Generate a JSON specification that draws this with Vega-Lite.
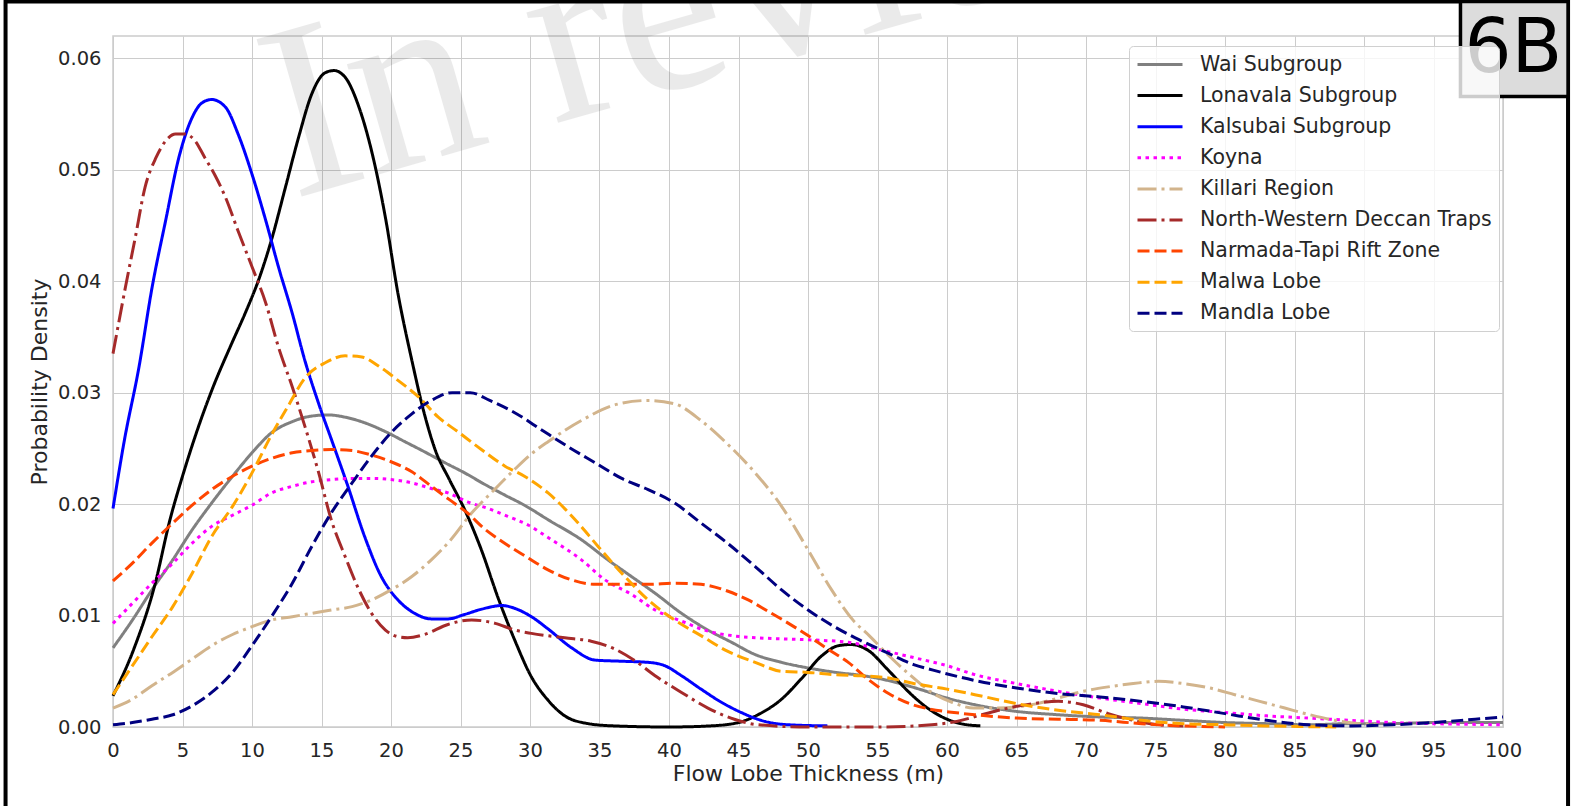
{
  "$schema": "https://vega.github.io/schema/vega-lite/v6.json",
  "width": 1390,
  "height": 691,
  "autosize": {"type": "none"},
  "padding": {"left": 113, "top": 36, "right": 68, "bottom": 79},
  "background": "white",
  "config": {
    "font": "DejaVu Sans",
    "view": {"stroke": "#cccccc", "strokeWidth": 1.5},
    "axis": {
      "grid": true, "labelFlush": false,
      "labelFont": "DejaVu Sans", "labelFontSize": 19.5, "labelColor": "#262626",
      "titleFont": "DejaVu Sans", "titleFontSize": 22, "titleColor": "#262626", "titleFontWeight": "normal",
      "gridColor": "#cccccc", "gridWidth": 1, "gridOpacity": 1, "domain": false, "ticks": false
    },
    "axisX": {"labelPadding": 14.5, "titlePadding": 3.5},
    "axisY": {"labelPadding": 12, "titlePadding": 6.5}
  },
  "datasets": {
    "curves": [
      {"s":"Wai Subgroup","x":0,"y":0.0071},{"s":"Wai Subgroup","x":1.4,"y":0.0096},{"s":"Wai Subgroup","x":2.8,"y":0.0123},{"s":"Wai Subgroup","x":4.3,"y":0.015},{"s":"Wai Subgroup","x":5.7,"y":0.0177},{"s":"Wai Subgroup","x":7.1,"y":0.0201},{"s":"Wai Subgroup","x":8.6,"y":0.0225},{"s":"Wai Subgroup","x":10,"y":0.0246},{"s":"Wai Subgroup","x":11.4,"y":0.0264},{"s":"Wai Subgroup","x":12.9,"y":0.0274},{"s":"Wai Subgroup","x":14.3,"y":0.0279},{"s":"Wai Subgroup","x":15.5,"y":0.028},{"s":"Wai Subgroup","x":16.7,"y":0.0278},{"s":"Wai Subgroup","x":18.1,"y":0.0273},{"s":"Wai Subgroup","x":19.6,"y":0.0265},{"s":"Wai Subgroup","x":21,"y":0.0256},{"s":"Wai Subgroup","x":22.4,"y":0.0247},{"s":"Wai Subgroup","x":23.9,"y":0.0237},{"s":"Wai Subgroup","x":25.3,"y":0.0228},{"s":"Wai Subgroup","x":26.7,"y":0.0218},{"s":"Wai Subgroup","x":28.2,"y":0.0208},{"s":"Wai Subgroup","x":29.6,"y":0.0199},{"s":"Wai Subgroup","x":31.3,"y":0.0186},{"s":"Wai Subgroup","x":33.7,"y":0.0168},{"s":"Wai Subgroup","x":35.6,"y":0.015},{"s":"Wai Subgroup","x":37.3,"y":0.0135},{"s":"Wai Subgroup","x":39,"y":0.012},{"s":"Wai Subgroup","x":40.9,"y":0.0102},{"s":"Wai Subgroup","x":42.8,"y":0.0087},{"s":"Wai Subgroup","x":44.5,"y":0.0076},{"s":"Wai Subgroup","x":46.2,"y":0.0065},{"s":"Wai Subgroup","x":48.1,"y":0.0058},{"s":"Wai Subgroup","x":50,"y":0.0053},{"s":"Wai Subgroup","x":52,"y":0.0049},{"s":"Wai Subgroup","x":54,"y":0.0046},{"s":"Wai Subgroup","x":56,"y":0.0041},{"s":"Wai Subgroup","x":58,"y":0.0034},{"s":"Wai Subgroup","x":60,"y":0.0026},{"s":"Wai Subgroup","x":62,"y":0.002},{"s":"Wai Subgroup","x":65,"y":0.0014},{"s":"Wai Subgroup","x":68,"y":0.0011},{"s":"Wai Subgroup","x":71,"y":0.0009},{"s":"Wai Subgroup","x":74,"y":0.0008},{"s":"Wai Subgroup","x":77,"y":0.0006},{"s":"Wai Subgroup","x":80,"y":0.0004},{"s":"Wai Subgroup","x":83,"y":0.0003},{"s":"Wai Subgroup","x":86,"y":0.0002},{"s":"Wai Subgroup","x":89,"y":0.0003},{"s":"Wai Subgroup","x":92,"y":0.0003},{"s":"Wai Subgroup","x":95,"y":0.0004},{"s":"Wai Subgroup","x":100,"y":0.0004},

      {"s":"Lonavala Subgroup","x":0,"y":0.0028},{"s":"Lonavala Subgroup","x":1.5,"y":0.007},{"s":"Lonavala Subgroup","x":3,"y":0.0127},{"s":"Lonavala Subgroup","x":4.1,"y":0.0186},{"s":"Lonavala Subgroup","x":5,"y":0.0225},{"s":"Lonavala Subgroup","x":6,"y":0.0264},{"s":"Lonavala Subgroup","x":7.2,"y":0.0305},{"s":"Lonavala Subgroup","x":8.5,"y":0.0343},{"s":"Lonavala Subgroup","x":9.5,"y":0.0371},{"s":"Lonavala Subgroup","x":10.5,"y":0.0402},{"s":"Lonavala Subgroup","x":11.4,"y":0.0437},{"s":"Lonavala Subgroup","x":12.4,"y":0.0484},{"s":"Lonavala Subgroup","x":13.35,"y":0.0529},{"s":"Lonavala Subgroup","x":14.3,"y":0.0568},{"s":"Lonavala Subgroup","x":15.26,"y":0.0587},{"s":"Lonavala Subgroup","x":15.9,"y":0.0589},{"s":"Lonavala Subgroup","x":16.7,"y":0.0583},{"s":"Lonavala Subgroup","x":17.7,"y":0.0556},{"s":"Lonavala Subgroup","x":18.6,"y":0.0517},{"s":"Lonavala Subgroup","x":19.6,"y":0.0457},{"s":"Lonavala Subgroup","x":20.5,"y":0.0389},{"s":"Lonavala Subgroup","x":21.5,"y":0.0329},{"s":"Lonavala Subgroup","x":22.4,"y":0.0281},{"s":"Lonavala Subgroup","x":23.2,"y":0.0248},{"s":"Lonavala Subgroup","x":24.2,"y":0.0222},{"s":"Lonavala Subgroup","x":25.3,"y":0.0195},{"s":"Lonavala Subgroup","x":26.5,"y":0.0159},{"s":"Lonavala Subgroup","x":27.7,"y":0.0116},{"s":"Lonavala Subgroup","x":28.9,"y":0.0078},{"s":"Lonavala Subgroup","x":30.1,"y":0.0045},{"s":"Lonavala Subgroup","x":31.3,"y":0.0024},{"s":"Lonavala Subgroup","x":32.5,"y":0.001},{"s":"Lonavala Subgroup","x":34.2,"y":0.0003},{"s":"Lonavala Subgroup","x":36,"y":0.0001},{"s":"Lonavala Subgroup","x":40,"y":0},{"s":"Lonavala Subgroup","x":43,"y":0.0001},{"s":"Lonavala Subgroup","x":45,"y":0.0004},{"s":"Lonavala Subgroup","x":46.4,"y":0.0011},{"s":"Lonavala Subgroup","x":48.1,"y":0.0025},{"s":"Lonavala Subgroup","x":49.5,"y":0.0043},{"s":"Lonavala Subgroup","x":51,"y":0.0064},{"s":"Lonavala Subgroup","x":52.2,"y":0.0073},{"s":"Lonavala Subgroup","x":53.1,"y":0.0074},{"s":"Lonavala Subgroup","x":54.3,"y":0.0069},{"s":"Lonavala Subgroup","x":55.7,"y":0.0052},{"s":"Lonavala Subgroup","x":57.2,"y":0.0032},{"s":"Lonavala Subgroup","x":58.6,"y":0.0017},{"s":"Lonavala Subgroup","x":60,"y":0.0007},{"s":"Lonavala Subgroup","x":61,"y":0.0003},{"s":"Lonavala Subgroup","x":62.4,"y":0.0001},

      {"s":"Kalsubai Subgroup","x":0,"y":0.0196},{"s":"Kalsubai Subgroup","x":0.8,"y":0.0256},{"s":"Kalsubai Subgroup","x":1.87,"y":0.0323},{"s":"Kalsubai Subgroup","x":2.82,"y":0.0395},{"s":"Kalsubai Subgroup","x":3.78,"y":0.0454},{"s":"Kalsubai Subgroup","x":4.74,"y":0.0511},{"s":"Kalsubai Subgroup","x":5.7,"y":0.0547},{"s":"Kalsubai Subgroup","x":6.4,"y":0.056},{"s":"Kalsubai Subgroup","x":7.1,"y":0.0563},{"s":"Kalsubai Subgroup","x":8.1,"y":0.0556},{"s":"Kalsubai Subgroup","x":9,"y":0.0532},{"s":"Kalsubai Subgroup","x":10,"y":0.0496},{"s":"Kalsubai Subgroup","x":11,"y":0.0454},{"s":"Kalsubai Subgroup","x":11.9,"y":0.0413},{"s":"Kalsubai Subgroup","x":12.9,"y":0.0371},{"s":"Kalsubai Subgroup","x":13.8,"y":0.0329},{"s":"Kalsubai Subgroup","x":14.8,"y":0.029},{"s":"Kalsubai Subgroup","x":15.8,"y":0.0255},{"s":"Kalsubai Subgroup","x":16.9,"y":0.0216},{"s":"Kalsubai Subgroup","x":18.1,"y":0.0171},{"s":"Kalsubai Subgroup","x":19.3,"y":0.0135},{"s":"Kalsubai Subgroup","x":20.5,"y":0.0114},{"s":"Kalsubai Subgroup","x":21.7,"y":0.0102},{"s":"Kalsubai Subgroup","x":22.9,"y":0.0097},{"s":"Kalsubai Subgroup","x":24.1,"y":0.0097},{"s":"Kalsubai Subgroup","x":25.3,"y":0.0101},{"s":"Kalsubai Subgroup","x":26.6,"y":0.0106},{"s":"Kalsubai Subgroup","x":28,"y":0.0109},{"s":"Kalsubai Subgroup","x":29,"y":0.0106},{"s":"Kalsubai Subgroup","x":30.1,"y":0.0099},{"s":"Kalsubai Subgroup","x":31.3,"y":0.0088},{"s":"Kalsubai Subgroup","x":33,"y":0.0071},{"s":"Kalsubai Subgroup","x":34.7,"y":0.006},{"s":"Kalsubai Subgroup","x":36.6,"y":0.0059},{"s":"Kalsubai Subgroup","x":38.5,"y":0.0058},{"s":"Kalsubai Subgroup","x":39.7,"y":0.0055},{"s":"Kalsubai Subgroup","x":40.9,"y":0.0046},{"s":"Kalsubai Subgroup","x":42.3,"y":0.0034},{"s":"Kalsubai Subgroup","x":43.8,"y":0.0022},{"s":"Kalsubai Subgroup","x":45.2,"y":0.0013},{"s":"Kalsubai Subgroup","x":46.9,"y":0.0005},{"s":"Kalsubai Subgroup","x":48.6,"y":0.0002},{"s":"Kalsubai Subgroup","x":51.4,"y":0.0001},

      {"s":"Koyna","x":0,"y":0.0093},{"s":"Koyna","x":1.4,"y":0.0111},{"s":"Koyna","x":2.8,"y":0.0129},{"s":"Koyna","x":4.3,"y":0.0147},{"s":"Koyna","x":5.7,"y":0.0165},{"s":"Koyna","x":7.1,"y":0.018},{"s":"Koyna","x":8.6,"y":0.019},{"s":"Koyna","x":10,"y":0.0199},{"s":"Koyna","x":11.4,"y":0.021},{"s":"Koyna","x":12.9,"y":0.0216},{"s":"Koyna","x":14.3,"y":0.022},{"s":"Koyna","x":15.7,"y":0.0222},{"s":"Koyna","x":17.2,"y":0.0223},{"s":"Koyna","x":18.6,"y":0.0223},{"s":"Koyna","x":20,"y":0.0222},{"s":"Koyna","x":21.5,"y":0.0219},{"s":"Koyna","x":22.9,"y":0.0214},{"s":"Koyna","x":24.1,"y":0.021},{"s":"Koyna","x":25.5,"y":0.0202},{"s":"Koyna","x":27,"y":0.0196},{"s":"Koyna","x":28.4,"y":0.0189},{"s":"Koyna","x":29.9,"y":0.0181},{"s":"Koyna","x":31.3,"y":0.017},{"s":"Koyna","x":33.7,"y":0.015},{"s":"Koyna","x":35.4,"y":0.0132},{"s":"Koyna","x":37.3,"y":0.0119},{"s":"Koyna","x":39,"y":0.0105},{"s":"Koyna","x":40.9,"y":0.0095},{"s":"Koyna","x":42.8,"y":0.0086},{"s":"Koyna","x":44.5,"y":0.0082},{"s":"Koyna","x":46.4,"y":0.008},{"s":"Koyna","x":48.3,"y":0.0079},{"s":"Koyna","x":50.5,"y":0.0078},{"s":"Koyna","x":52.9,"y":0.0076},{"s":"Koyna","x":55.3,"y":0.0069},{"s":"Koyna","x":57.7,"y":0.0062},{"s":"Koyna","x":60,"y":0.0055},{"s":"Koyna","x":62,"y":0.0047},{"s":"Koyna","x":65,"y":0.0039},{"s":"Koyna","x":68,"y":0.0032},{"s":"Koyna","x":71,"y":0.0026},{"s":"Koyna","x":74,"y":0.0021},{"s":"Koyna","x":77,"y":0.0016},{"s":"Koyna","x":80,"y":0.0013},{"s":"Koyna","x":83,"y":0.001},{"s":"Koyna","x":86,"y":0.0008},{"s":"Koyna","x":89,"y":0.0006},{"s":"Koyna","x":92,"y":0.0004},{"s":"Koyna","x":95,"y":0.0003},{"s":"Koyna","x":100,"y":0.0002},

      {"s":"Killari Region","x":0,"y":0.0017},{"s":"Killari Region","x":1.4,"y":0.0025},{"s":"Killari Region","x":2.8,"y":0.0037},{"s":"Killari Region","x":4.3,"y":0.0049},{"s":"Killari Region","x":5.7,"y":0.0061},{"s":"Killari Region","x":7.1,"y":0.0073},{"s":"Killari Region","x":8.6,"y":0.0083},{"s":"Killari Region","x":10,"y":0.009},{"s":"Killari Region","x":11.4,"y":0.0096},{"s":"Killari Region","x":12.9,"y":0.0099},{"s":"Killari Region","x":14.3,"y":0.0102},{"s":"Killari Region","x":15.7,"y":0.0105},{"s":"Killari Region","x":17.2,"y":0.0108},{"s":"Killari Region","x":18.6,"y":0.0114},{"s":"Killari Region","x":20,"y":0.0123},{"s":"Killari Region","x":21.5,"y":0.0135},{"s":"Killari Region","x":22.9,"y":0.015},{"s":"Killari Region","x":24.3,"y":0.0168},{"s":"Killari Region","x":25.8,"y":0.0192},{"s":"Killari Region","x":27.2,"y":0.021},{"s":"Killari Region","x":28.8,"y":0.023},{"s":"Killari Region","x":30.1,"y":0.0245},{"s":"Killari Region","x":31.3,"y":0.0256},{"s":"Killari Region","x":33.7,"y":0.0275},{"s":"Killari Region","x":36.1,"y":0.0289},{"s":"Killari Region","x":38.5,"y":0.0293},{"s":"Killari Region","x":40.4,"y":0.029},{"s":"Killari Region","x":42.3,"y":0.0275},{"s":"Killari Region","x":44.2,"y":0.0254},{"s":"Killari Region","x":46.2,"y":0.0228},{"s":"Killari Region","x":48.1,"y":0.0198},{"s":"Killari Region","x":50,"y":0.0159},{"s":"Killari Region","x":51.7,"y":0.0123},{"s":"Killari Region","x":53.3,"y":0.0095},{"s":"Killari Region","x":54.4,"y":0.0082},{"s":"Killari Region","x":55.9,"y":0.0063},{"s":"Killari Region","x":57.4,"y":0.0046},{"s":"Killari Region","x":58.9,"y":0.0031},{"s":"Killari Region","x":60.4,"y":0.0022},{"s":"Killari Region","x":61.9,"y":0.0017},{"s":"Killari Region","x":63.5,"y":0.0017},{"s":"Killari Region","x":65,"y":0.0018},{"s":"Killari Region","x":66.5,"y":0.0021},{"s":"Killari Region","x":68,"y":0.0026},{"s":"Killari Region","x":69.8,"y":0.0032},{"s":"Killari Region","x":71.6,"y":0.0036},{"s":"Killari Region","x":73.4,"y":0.0039},{"s":"Killari Region","x":75.2,"y":0.0041},{"s":"Killari Region","x":77,"y":0.0039},{"s":"Killari Region","x":78.9,"y":0.0035},{"s":"Killari Region","x":80.7,"y":0.0029},{"s":"Killari Region","x":82.5,"y":0.0023},{"s":"Killari Region","x":84.3,"y":0.0017},{"s":"Killari Region","x":86.1,"y":0.0011},{"s":"Killari Region","x":87.9,"y":0.0006},{"s":"Killari Region","x":89.7,"y":0.0003},{"s":"Killari Region","x":91,"y":0.0002},

      {"s":"North-Western Deccan Traps","x":0,"y":0.0335},{"s":"North-Western Deccan Traps","x":0.9,"y":0.0395},{"s":"North-Western Deccan Traps","x":1.6,"y":0.0439},{"s":"North-Western Deccan Traps","x":2.3,"y":0.0484},{"s":"North-Western Deccan Traps","x":3.1,"y":0.0511},{"s":"North-Western Deccan Traps","x":3.8,"y":0.0526},{"s":"North-Western Deccan Traps","x":4.5,"y":0.0532},{"s":"North-Western Deccan Traps","x":5.2,"y":0.0532},{"s":"North-Western Deccan Traps","x":5.9,"y":0.0526},{"s":"North-Western Deccan Traps","x":6.6,"y":0.0511},{"s":"North-Western Deccan Traps","x":7.3,"y":0.0496},{"s":"North-Western Deccan Traps","x":8.1,"y":0.0475},{"s":"North-Western Deccan Traps","x":9,"y":0.0445},{"s":"North-Western Deccan Traps","x":10,"y":0.0413},{"s":"North-Western Deccan Traps","x":11,"y":0.038},{"s":"North-Western Deccan Traps","x":11.9,"y":0.0341},{"s":"North-Western Deccan Traps","x":12.9,"y":0.0305},{"s":"North-Western Deccan Traps","x":13.8,"y":0.027},{"s":"North-Western Deccan Traps","x":14.8,"y":0.0228},{"s":"North-Western Deccan Traps","x":15.7,"y":0.0186},{"s":"North-Western Deccan Traps","x":16.7,"y":0.0153},{"s":"North-Western Deccan Traps","x":17.7,"y":0.0123},{"s":"North-Western Deccan Traps","x":18.6,"y":0.0102},{"s":"North-Western Deccan Traps","x":19.6,"y":0.0087},{"s":"North-Western Deccan Traps","x":20.5,"y":0.0081},{"s":"North-Western Deccan Traps","x":21.2,"y":0.008},{"s":"North-Western Deccan Traps","x":22.4,"y":0.0083},{"s":"North-Western Deccan Traps","x":24.1,"y":0.0092},{"s":"North-Western Deccan Traps","x":25.8,"y":0.0096},{"s":"North-Western Deccan Traps","x":27.5,"y":0.0093},{"s":"North-Western Deccan Traps","x":28.9,"y":0.0087},{"s":"North-Western Deccan Traps","x":30.1,"y":0.0084},{"s":"North-Western Deccan Traps","x":32.5,"y":0.008},{"s":"North-Western Deccan Traps","x":34.4,"y":0.0077},{"s":"North-Western Deccan Traps","x":36.1,"y":0.007},{"s":"North-Western Deccan Traps","x":37.6,"y":0.0059},{"s":"North-Western Deccan Traps","x":39,"y":0.0046},{"s":"North-Western Deccan Traps","x":40.9,"y":0.0031},{"s":"North-Western Deccan Traps","x":42.8,"y":0.0017},{"s":"North-Western Deccan Traps","x":44.7,"y":0.0007},{"s":"North-Western Deccan Traps","x":46.4,"y":0.0002},{"s":"North-Western Deccan Traps","x":50,"y":0},{"s":"North-Western Deccan Traps","x":55,"y":0},{"s":"North-Western Deccan Traps","x":58.9,"y":0.0002},{"s":"North-Western Deccan Traps","x":60.7,"y":0.0005},{"s":"North-Western Deccan Traps","x":62.5,"y":0.0011},{"s":"North-Western Deccan Traps","x":64.4,"y":0.0017},{"s":"North-Western Deccan Traps","x":66.2,"y":0.0021},{"s":"North-Western Deccan Traps","x":68,"y":0.0023},{"s":"North-Western Deccan Traps","x":69.8,"y":0.002},{"s":"North-Western Deccan Traps","x":71.6,"y":0.0012},{"s":"North-Western Deccan Traps","x":73.4,"y":0.0006},{"s":"North-Western Deccan Traps","x":75.2,"y":0.0002},{"s":"North-Western Deccan Traps","x":77,"y":0.0001},

      {"s":"Narmada-Tapi Rift Zone","x":0,"y":0.0131},{"s":"Narmada-Tapi Rift Zone","x":1.4,"y":0.0147},{"s":"Narmada-Tapi Rift Zone","x":2.8,"y":0.0165},{"s":"Narmada-Tapi Rift Zone","x":4.3,"y":0.0183},{"s":"Narmada-Tapi Rift Zone","x":5.7,"y":0.0199},{"s":"Narmada-Tapi Rift Zone","x":7.1,"y":0.0213},{"s":"Narmada-Tapi Rift Zone","x":8.6,"y":0.0225},{"s":"Narmada-Tapi Rift Zone","x":10,"y":0.0234},{"s":"Narmada-Tapi Rift Zone","x":11.4,"y":0.0241},{"s":"Narmada-Tapi Rift Zone","x":12.9,"y":0.0246},{"s":"Narmada-Tapi Rift Zone","x":14.3,"y":0.0248},{"s":"Narmada-Tapi Rift Zone","x":15.7,"y":0.0249},{"s":"Narmada-Tapi Rift Zone","x":17.2,"y":0.0248},{"s":"Narmada-Tapi Rift Zone","x":18.6,"y":0.0244},{"s":"Narmada-Tapi Rift Zone","x":20,"y":0.0238},{"s":"Narmada-Tapi Rift Zone","x":21.5,"y":0.0229},{"s":"Narmada-Tapi Rift Zone","x":22.9,"y":0.0216},{"s":"Narmada-Tapi Rift Zone","x":24.2,"y":0.0204},{"s":"Narmada-Tapi Rift Zone","x":25.5,"y":0.0192},{"s":"Narmada-Tapi Rift Zone","x":26.7,"y":0.0178},{"s":"Narmada-Tapi Rift Zone","x":27.8,"y":0.0168},{"s":"Narmada-Tapi Rift Zone","x":29.7,"y":0.0153},{"s":"Narmada-Tapi Rift Zone","x":31.3,"y":0.0141},{"s":"Narmada-Tapi Rift Zone","x":33,"y":0.0132},{"s":"Narmada-Tapi Rift Zone","x":34.7,"y":0.0128},{"s":"Narmada-Tapi Rift Zone","x":36.6,"y":0.0128},{"s":"Narmada-Tapi Rift Zone","x":38.5,"y":0.0128},{"s":"Narmada-Tapi Rift Zone","x":40.4,"y":0.0129},{"s":"Narmada-Tapi Rift Zone","x":42.3,"y":0.0128},{"s":"Narmada-Tapi Rift Zone","x":44.2,"y":0.0122},{"s":"Narmada-Tapi Rift Zone","x":45.7,"y":0.0114},{"s":"Narmada-Tapi Rift Zone","x":47.1,"y":0.0104},{"s":"Narmada-Tapi Rift Zone","x":48.6,"y":0.0093},{"s":"Narmada-Tapi Rift Zone","x":50,"y":0.0082},{"s":"Narmada-Tapi Rift Zone","x":51.4,"y":0.007},{"s":"Narmada-Tapi Rift Zone","x":52.9,"y":0.0058},{"s":"Narmada-Tapi Rift Zone","x":54.3,"y":0.0043},{"s":"Narmada-Tapi Rift Zone","x":55.8,"y":0.003},{"s":"Narmada-Tapi Rift Zone","x":57.3,"y":0.0021},{"s":"Narmada-Tapi Rift Zone","x":58.8,"y":0.0016},{"s":"Narmada-Tapi Rift Zone","x":60.5,"y":0.0013},{"s":"Narmada-Tapi Rift Zone","x":62,"y":0.0011},{"s":"Narmada-Tapi Rift Zone","x":65,"y":0.0008},{"s":"Narmada-Tapi Rift Zone","x":68,"y":0.0007},{"s":"Narmada-Tapi Rift Zone","x":71,"y":0.0006},{"s":"Narmada-Tapi Rift Zone","x":74,"y":0.0003},{"s":"Narmada-Tapi Rift Zone","x":77,"y":0.0001},{"s":"Narmada-Tapi Rift Zone","x":80,"y":0},

      {"s":"Malwa Lobe","x":0,"y":0.0029},{"s":"Malwa Lobe","x":1.4,"y":0.0055},{"s":"Malwa Lobe","x":2.8,"y":0.0081},{"s":"Malwa Lobe","x":4.3,"y":0.0108},{"s":"Malwa Lobe","x":5.7,"y":0.0138},{"s":"Malwa Lobe","x":7.1,"y":0.0171},{"s":"Malwa Lobe","x":8.6,"y":0.0198},{"s":"Malwa Lobe","x":10,"y":0.0228},{"s":"Malwa Lobe","x":11.4,"y":0.0262},{"s":"Malwa Lobe","x":12.6,"y":0.0288},{"s":"Malwa Lobe","x":13.8,"y":0.0313},{"s":"Malwa Lobe","x":15.3,"y":0.0327},{"s":"Malwa Lobe","x":16.7,"y":0.0333},{"s":"Malwa Lobe","x":17.9,"y":0.0332},{"s":"Malwa Lobe","x":19.1,"y":0.0324},{"s":"Malwa Lobe","x":20.5,"y":0.0311},{"s":"Malwa Lobe","x":22,"y":0.0296},{"s":"Malwa Lobe","x":23.4,"y":0.0278},{"s":"Malwa Lobe","x":24.8,"y":0.0265},{"s":"Malwa Lobe","x":26.5,"y":0.0249},{"s":"Malwa Lobe","x":28.2,"y":0.0234},{"s":"Malwa Lobe","x":29.6,"y":0.0225},{"s":"Malwa Lobe","x":31.3,"y":0.021},{"s":"Malwa Lobe","x":33.25,"y":0.0186},{"s":"Malwa Lobe","x":34.9,"y":0.0162},{"s":"Malwa Lobe","x":36.6,"y":0.0138},{"s":"Malwa Lobe","x":38.5,"y":0.0114},{"s":"Malwa Lobe","x":40.4,"y":0.0096},{"s":"Malwa Lobe","x":42.3,"y":0.0082},{"s":"Malwa Lobe","x":44.2,"y":0.0068},{"s":"Malwa Lobe","x":46.2,"y":0.0058},{"s":"Malwa Lobe","x":48.1,"y":0.005},{"s":"Malwa Lobe","x":50,"y":0.0049},{"s":"Malwa Lobe","x":51.9,"y":0.0047},{"s":"Malwa Lobe","x":53.8,"y":0.0046},{"s":"Malwa Lobe","x":55.8,"y":0.0044},{"s":"Malwa Lobe","x":57.6,"y":0.0039},{"s":"Malwa Lobe","x":60,"y":0.0034},{"s":"Malwa Lobe","x":62,"y":0.0029},{"s":"Malwa Lobe","x":65,"y":0.0021},{"s":"Malwa Lobe","x":68,"y":0.0015},{"s":"Malwa Lobe","x":71,"y":0.0011},{"s":"Malwa Lobe","x":74,"y":0.0006},{"s":"Malwa Lobe","x":77,"y":0.0003},{"s":"Malwa Lobe","x":80,"y":0.0002},{"s":"Malwa Lobe","x":83,"y":0.0001},{"s":"Malwa Lobe","x":88,"y":0},

      {"s":"Mandla Lobe","x":0,"y":0.0002},{"s":"Mandla Lobe","x":1.4,"y":0.0004},{"s":"Mandla Lobe","x":2.8,"y":0.0007},{"s":"Mandla Lobe","x":4.3,"y":0.0011},{"s":"Mandla Lobe","x":5.7,"y":0.0019},{"s":"Mandla Lobe","x":7.1,"y":0.0031},{"s":"Mandla Lobe","x":8.6,"y":0.0049},{"s":"Mandla Lobe","x":10,"y":0.0073},{"s":"Mandla Lobe","x":11.4,"y":0.0099},{"s":"Mandla Lobe","x":12.9,"y":0.0129},{"s":"Mandla Lobe","x":14.3,"y":0.0162},{"s":"Mandla Lobe","x":15.7,"y":0.0192},{"s":"Mandla Lobe","x":17.2,"y":0.0219},{"s":"Mandla Lobe","x":18.6,"y":0.0243},{"s":"Mandla Lobe","x":20,"y":0.0264},{"s":"Mandla Lobe","x":21.5,"y":0.0281},{"s":"Mandla Lobe","x":22.9,"y":0.0293},{"s":"Mandla Lobe","x":24.4,"y":0.03},{"s":"Mandla Lobe","x":25.7,"y":0.03},{"s":"Mandla Lobe","x":27.1,"y":0.0293},{"s":"Mandla Lobe","x":28.9,"y":0.0282},{"s":"Mandla Lobe","x":30.9,"y":0.0266},{"s":"Mandla Lobe","x":32.8,"y":0.0251},{"s":"Mandla Lobe","x":34.7,"y":0.0237},{"s":"Mandla Lobe","x":36.6,"y":0.0223},{"s":"Mandla Lobe","x":38.5,"y":0.0213},{"s":"Mandla Lobe","x":40.4,"y":0.0201},{"s":"Mandla Lobe","x":42.3,"y":0.0183},{"s":"Mandla Lobe","x":44.2,"y":0.0165},{"s":"Mandla Lobe","x":46.2,"y":0.0144},{"s":"Mandla Lobe","x":48.1,"y":0.0123},{"s":"Mandla Lobe","x":50,"y":0.0105},{"s":"Mandla Lobe","x":51.9,"y":0.009},{"s":"Mandla Lobe","x":53.4,"y":0.008},{"s":"Mandla Lobe","x":55.8,"y":0.0066},{"s":"Mandla Lobe","x":57.6,"y":0.0056},{"s":"Mandla Lobe","x":59,"y":0.0051},{"s":"Mandla Lobe","x":61.9,"y":0.0042},{"s":"Mandla Lobe","x":65,"y":0.0035},{"s":"Mandla Lobe","x":68,"y":0.003},{"s":"Mandla Lobe","x":71,"y":0.0027},{"s":"Mandla Lobe","x":74,"y":0.0023},{"s":"Mandla Lobe","x":77,"y":0.0018},{"s":"Mandla Lobe","x":80,"y":0.0012},{"s":"Mandla Lobe","x":83,"y":0.0006},{"s":"Mandla Lobe","x":86,"y":0.0002},{"s":"Mandla Lobe","x":89,"y":0.0001},{"s":"Mandla Lobe","x":92,"y":0.0002},{"s":"Mandla Lobe","x":95,"y":0.0004},{"s":"Mandla Lobe","x":98,"y":0.0007},{"s":"Mandla Lobe","x":100,"y":0.0009}
    ],
    "one": [{"k": 1}]
  },
  "layer": [
    {
      "data": {"name": "curves"},
      "mark": {"type": "line", "strokeWidth": 3, "interpolate": "monotone", "opacity": 0},
      "encoding": {
        "x": {"field": "x", "type": "quantitative", "scale": {"domain": [0, 100], "nice": false}, "title": "Flow Lobe Thickness (m)", "axis": {"grid": true, "values": [0,5,10,15,20,25,30,35,40,45,50,55,60,65,70,75,80,85,90,95,100]}},
        "y": {"field": "y", "type": "quantitative", "scale": {"domain": [0, 0.062], "nice": false}, "title": "Probability Density", "axis": {"grid": true, "values": [0,0.01,0.02,0.03,0.04,0.05,0.06], "format": ".2f"}},
        "detail": {"field": "s", "type": "nominal"}
      }
    },
    {
      "data": {"name": "one"},
      "mark": {"type": "text", "text": "In review", "font": "Liberation Serif", "fontSize": 250, "angle": -16, "align": "left", "baseline": "alphabetic", "color": "#000000", "opacity": 0.08},
      "encoding": {
        "x": {"datum": 12.95, "type": "quantitative"},
        "y": {"datum": 0.04738, "type": "quantitative"}
      }
    },
    {
      "data": {"name": "curves"},
      "mark": {"type": "line", "strokeWidth": 3, "interpolate": "monotone"},
      "encoding": {
        "x": {"field": "x", "type": "quantitative"},
        "y": {"field": "y", "type": "quantitative"},
        "color": {
          "field": "s", "type": "nominal",
          "scale": {
            "domain": ["Wai Subgroup","Lonavala Subgroup","Kalsubai Subgroup","Koyna","Killari Region","North-Western Deccan Traps","Narmada-Tapi Rift Zone","Malwa Lobe","Mandla Lobe"],
            "range": ["#808080","#000000","#0000ff","#ff00ff","#d2b48c","#a52a2a","#ff4500","#ffa500","#000080"]
          },
          "legend": {"orient": "none", "legendX": 1016, "legendY": 10, "title": null, "labelFont": "DejaVu Sans", "labelFontSize": 20.5, "labelColor": "#262626", "labelOffset": 41, "labelLimit": 400, "symbolType": "M-1,0H3.5", "symbolSize": 400, "symbolStrokeWidth": 3, "rowPadding": 9.1, "padding": 7, "strokeColor": "#d0d0d0", "fillColor": "rgba(255,255,255,0.8)", "cornerRadius": 4}
        },
        "strokeDash": {
          "field": "s", "type": "nominal",
          "scale": {
            "domain": ["Wai Subgroup","Lonavala Subgroup","Kalsubai Subgroup","Koyna","Killari Region","North-Western Deccan Traps","Narmada-Tapi Rift Zone","Malwa Lobe","Mandla Lobe"],
            "range": [[1,0],[1,0],[1,0],[3.5,4.5],[19,5,3,5],[19,5,3,5],[12,5],[12,5],[12,5]]
          },
          "legend": {"orient": "none", "legendX": 1016, "legendY": 10, "title": null, "labelFont": "DejaVu Sans", "labelFontSize": 20.5, "labelColor": "#262626", "labelOffset": 41, "labelLimit": 400, "symbolType": "M-1,0H3.5", "symbolSize": 400, "symbolStrokeWidth": 3, "rowPadding": 9.1, "padding": 7, "strokeColor": "#d0d0d0", "fillColor": "rgba(255,255,255,0.8)", "cornerRadius": 4}
        }
      }
    },
    {
      "data": {"name": "one"},
      "mark": {"type": "rect", "filled": false, "stroke": "#000000", "strokeWidth": 4},
      "encoding": {
        "x": {"datum": -7.73, "type": "quantitative"},
        "x2": {"datum": 104.68},
        "y": {"datum": 0.0651, "type": "quantitative"},
        "y2": {"datum": -0.0076}
      }
    },
    {
      "data": {"name": "one"},
      "mark": {"type": "rect", "fill": "#dcdcdc", "stroke": "#000000", "strokeWidth": 3.5},
      "encoding": {
        "x": {"datum": 96.94, "type": "quantitative"},
        "x2": {"datum": 104.68},
        "y": {"datum": 0.0651, "type": "quantitative"},
        "y2": {"datum": 0.05657}
      }
    },
    {
      "data": {"name": "one"},
      "mark": {"type": "text", "text": "6B", "font": "DejaVu Sans", "fontSize": 74, "align": "center", "baseline": "alphabetic", "color": "#000000"},
      "encoding": {
        "x": {"datum": 100.75, "type": "quantitative"},
        "y": {"datum": 0.05877, "type": "quantitative"}
      }
    }
  ]
}
